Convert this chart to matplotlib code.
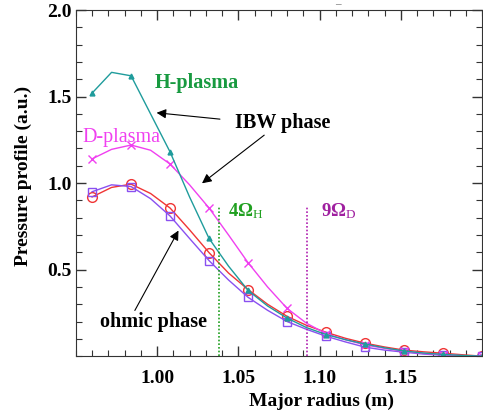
import numpy as np
import matplotlib
matplotlib.use("Agg")
import matplotlib.pyplot as plt
from matplotlib.ticker import MultipleLocator

# radius grid (m), markers every second point
radius = [0.960, 0.972, 0.984, 0.996, 1.008, 1.020, 1.032, 1.044, 1.056, 1.068, 1.080,
          1.092, 1.104, 1.116, 1.128, 1.140, 1.152, 1.164, 1.176, 1.188, 1.200]

h_plasma = [1.52, 1.64, 1.62, 1.40, 1.18, 0.92, 0.68, 0.52, 0.38, 0.29, 0.22,
            0.165, 0.125, 0.095, 0.07, 0.048, 0.03, 0.018, 0.01, 0.004, 0.0]
d_plasma = [1.14, 1.195, 1.22, 1.19, 1.11, 0.99, 0.856, 0.70, 0.54, 0.40, 0.276,
            0.19, 0.13, 0.095, 0.065, 0.045, 0.028, 0.016, 0.008, 0.003, 0.0]
ohmic_red = [0.92, 0.975, 0.994, 0.94, 0.856, 0.73, 0.598, 0.48, 0.385, 0.30, 0.23,
             0.178, 0.138, 0.103, 0.075, 0.053, 0.035, 0.025, 0.017, 0.008, 0.0]
ohmic_blue = [0.95, 0.99, 0.98, 0.91, 0.81, 0.68, 0.552, 0.44, 0.34, 0.265, 0.20,
              0.155, 0.115, 0.082, 0.052, 0.035, 0.023, 0.012, 0.005, 0.002, 0.0]

res_4wh = 1.038
res_9wd = 1.092

plt.rcParams['font.family'] = ['Liberation Serif', 'DejaVu Serif']
plt.rcParams['mathtext.fontset'] = 'custom'
plt.rcParams['mathtext.rm'] = 'Liberation Serif'
plt.rcParams['mathtext.it'] = 'Liberation Serif:italic'
plt.rcParams['mathtext.bf'] = 'Liberation Serif:bold'

fig = plt.figure(figsize=(4.83, 4.19), dpi=100)
ax = fig.add_axes([0.157, 0.150, 0.841, 0.826])

teal = '#1f9c9c'
mag = '#f040f0'
red = '#f03535'
purple = '#8a50f0'

ax.plot(radius, ohmic_red, color=red, lw=1, marker='o', markevery=2, ms=7,
        mfc='none', mec=red, mew=1)
ax.plot(radius, ohmic_blue, color=purple, lw=1, marker='s', markevery=2, ms=6,
        mfc='none', mec=purple, mew=1)
ax.plot(radius, d_plasma, color=mag, lw=1, marker='x', markevery=2, ms=6, mew=1)
ax.plot(radius, h_plasma, color=teal, lw=1, marker='^', markevery=2, ms=3.5)

ax.plot([res_4wh, res_4wh], [0, 0.87], color='#20a020', lw=1.2, ls=(0, (1, 1.2)))
ax.plot([res_9wd, res_9wd], [0, 0.87], color='#b020b0', lw=1.2, ls=(0, (1, 1.2)))

ax.set_xlim(0.95, 1.20)
ax.set_ylim(0.0, 2.0)
ax.xaxis.set_minor_locator(MultipleLocator(0.01))
ax.yaxis.set_minor_locator(MultipleLocator(0.1))
ax.set_xticks([1.00, 1.05, 1.10, 1.15])
ax.set_xticklabels(['1.00', '1.05', '1.10', '1.15'])
ax.set_yticks([0.5, 1.0, 1.5, 2.0])
ax.set_yticklabels(['0.5', '1.0', '1.5', '2.0'])
ax.tick_params(which='both', direction='in', top=True, right=True, color='#333333')
ax.tick_params(which='major', length=7, width=1, labelsize=14)
ax.tick_params(axis='x', which='major', pad=10)
ax.tick_params(axis='y', which='major', pad=3)
ax.tick_params(which='minor', length=4, width=0.8)
for lab in ax.get_xticklabels() + ax.get_yticklabels():
    lab.set_fontweight('bold')
for s in ax.spines.values():
    s.set_color('#333333')

ax.set_xlabel('Major radius (m)', fontsize=14, fontweight='bold', labelpad=3)
ax.xaxis.set_label_coords(0.606, -0.105)
ax.set_ylabel('Pressure profile (a.u.)', fontsize=14, fontweight='bold')
ax.yaxis.set_label_coords(-0.108, 0.52)

ax.text(0.9988, 1.58, 'H-plasma', color='#189a40', fontsize=14.5, fontweight='bold',
        ha='left', va='center')
ax.text(0.954, 1.264, 'D-plasma', color=mag, fontsize=14.5, ha='left', va='center')
ax.text(1.0477, 1.35, 'IBW phase', color='black', fontsize=14.5, fontweight='bold',
        ha='left', va='center')
ax.text(0.965, 0.195, 'ohmic phase', color='black', fontsize=14.5, fontweight='bold',
        ha='left', va='center')
ax.text(1.0435, 0.84, r'4$\mathbf{\Omega}_{\rm H}$', color='#20a020', fontsize=13.5,
        fontweight='bold', ha='left', va='center')
ax.text(1.101, 0.84, r'9$\mathbf{\Omega}_{\rm D}$', color='#a020a0', fontsize=13.5,
        fontweight='bold', ha='left', va='center')

arr = dict(arrowstyle='-|>', color='black', lw=0.8, mutation_scale=14)
ax.annotate('', xy=(0.998, 1.408), xytext=(1.0404, 1.368), arrowprops=arr)
ax.annotate('', xy=(1.0263, 0.989), xytext=(1.0673, 1.287), arrowprops=arr)
ax.annotate('', xy=(1.014, 0.74), xytext=(0.9855, 0.25), arrowprops=arr)

fig.text(338 / 483, 1 - 5 / 419, '\u2013', fontsize=8, color='#555555',
         ha='center', va='center')

fig.savefig('out.png', dpi=100)
